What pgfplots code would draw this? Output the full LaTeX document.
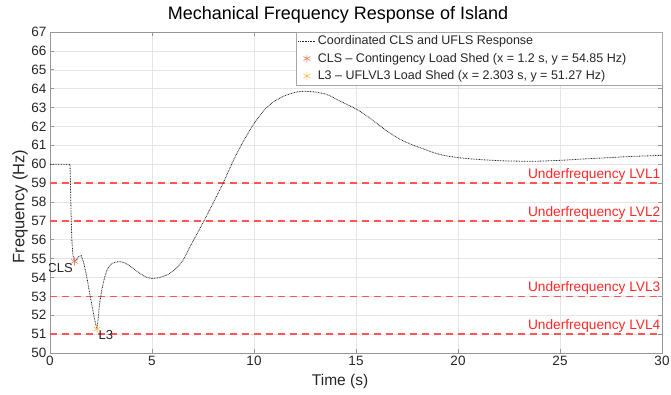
\documentclass[border=0pt]{standalone}
\usepackage{fontspec}
\setmainfont{Liberation Sans}
\usepackage{pgfplots}
\pgfplotsset{compat=1.18}
\definecolor{tickgray}{RGB}{38,38,38}
\definecolor{spine}{RGB}{150,150,150}
\definecolor{ufred}{RGB}{255,85,85}
\definecolor{uftext}{RGB}{255,40,40}
\definecolor{clsc}{RGB}{235,125,95}
\definecolor{l3c}{RGB}{245,190,80}
\pgfplotsset{
  lineleg/.style={legend image code/.code={\draw[##1] (0pt,0pt) -- (17pt,0pt);}},
  markleg/.style={legend image code/.code={\draw[##1] plot coordinates {(8.5pt,0pt)};}},
}
\begin{document}
\begin{tikzpicture}
\begin{axis}[
  name=ax,
  width=612pt, height=321pt, scale only axis,
  xmin=0, xmax=30, ymin=50, ymax=67,
  xtick={0,5,...,30}, ytick={50,51,...,67},
  grid=major, major grid style={draw=black!10, line width=0.5pt},
  axis line style={draw=spine, line width=0.6pt},
  tick style={draw=spine, line width=0.6pt},
  tick align=inside, major tick length=4pt,
  tick label style={font=\fontsize{13.5}{15}\selectfont, text=tickgray},
  /pgf/number format/assume math mode=true,
  title={Mechanical Frequency Response of Island},
  title style={font=\fontsize{18}{20}\selectfont, text=black, at={(axis description cs:0.4706,1)}, anchor=base, inner sep=0pt, yshift=7pt},
  xlabel={Time (s)}, ylabel={Frequency (Hz)},
  xlabel style={font=\fontsize{15.5}{17}\selectfont, text=tickgray, at={(axis description cs:0.474,-0.09)}, anchor=center},
  ylabel style={font=\fontsize{16.5}{18}\selectfont, text=tickgray, at={(axis description cs:-0.049,0.4565)}, anchor=center},
  legend style={at={(axis description cs:1,1)}, anchor=north east,
    font=\fontsize{12.5}{14}\selectfont, draw=black!35, fill=white,
    inner sep=1.5pt, row sep=3pt, text=tickgray},
  legend cell align=left,
]
\addplot[ufred, line width=1.4pt, dash pattern=on 7pt off 5pt, forget plot] coordinates {(0,59) (30,59)};
\addplot[ufred, line width=1.4pt, dash pattern=on 7pt off 5pt, forget plot] coordinates {(0,57) (30,57)};
\addplot[ufred, line width=1.4pt, dash pattern=on 7pt off 5pt, forget plot] coordinates {(0,53) (30,53)};
\addplot[ufred, line width=1.4pt, dash pattern=on 7pt off 5pt, forget plot] coordinates {(0,51) (30,51)};

\addplot[black!85, line width=0.8pt, dash pattern=on 0.8pt off 0.8pt, lineleg] coordinates {
(0,60) (0.5,60) (0.98,60) (1.0,59.2) (1.03,57.5) (1.07,56) (1.12,55.2) (1.2,54.85)
(1.3,54.98) (1.4,55.1) (1.53,55.16) (1.65,54.8) (1.75,54.3) (1.86,53.69) (1.98,52.95)
(2.1,52.27) (2.2,51.7) (2.303,51.27)
};
\addlegendentry{Coordinated CLS and UFLS Response}
\addplot[black!85, line width=0.8pt, dash pattern=on 0.8pt off 0.8pt, smooth, tension=0.4, forget plot] coordinates {
(2.303,51.27) (2.37,51.9) (2.43,52.6) (2.55,53.4) (2.68,54.0)
(2.8,54.4) (2.92,54.62) (3.1,54.77) (3.38,54.84) (3.65,54.78) (3.91,54.62) (4.15,54.42)
(4.4,54.22) (4.7,54.03) (4.97,53.95) (5.3,53.98) (5.71,54.12) (6.1,54.4) (6.5,54.88)
(6.85,55.6) (7.15,56.2) (7.5,56.9) (8.0,57.95) (8.49,59.0) (8.8,59.75) (9.15,60.55)
(9.5,61.25) (9.97,62.1) (10.45,62.8) (10.95,63.3) (11.5,63.62) (12.0,63.8)
(12.43,63.86) (13.0,63.82) (13.58,63.69) (14.24,63.33) (15.06,62.89) (15.6,62.5)
(16.21,62.0) (16.7,61.62) (17.19,61.30) (17.7,61.05) (18.18,60.86) (18.67,60.66)
(19.16,60.50) (19.65,60.40) (20.15,60.33) (20.65,60.28) (21.13,60.24) (22.12,60.18)
(23.0,60.16) (23.6,60.15) (24.5,60.18) (25.3,60.22) (26.06,60.27) (27.3,60.34)
(28.5,60.41) (29.3,60.44) (30,60.47)
};

\addplot[only marks, mark=asterisk, mark size=4pt, clsc, line width=0.6pt, markleg] coordinates {(1.2,54.85)};
\addlegendentry{CLS -- Contingency Load Shed (x = 1.2 s, y = 54.85 Hz)\hspace*{32pt}}

\addplot[only marks, mark=asterisk, mark size=4pt, l3c, line width=0.6pt, markleg] coordinates {(2.303,51.27)};
\addlegendentry{L3 -- UFLVL3 Load Shed (x = 2.303 s, y = 51.27 Hz)}

\node[anchor=north east, inner sep=1.5pt, font=\fontsize{13}{15}\selectfont, text=tickgray] at (axis cs:1.2,54.85) {CLS};
\node[anchor=north west, inner sep=1.5pt, font=\fontsize{13}{15}\selectfont, text=tickgray] at (axis cs:2.303,51.27) {L3};

\node[anchor=south east, inner sep=1.5pt, text=uftext, font=\fontsize{13.7}{15}\selectfont] at (axis cs:30,59) {Underfrequency LVL1};
\node[anchor=south east, inner sep=1.5pt, text=uftext, font=\fontsize{13.7}{15}\selectfont] at (axis cs:30,57) {Underfrequency LVL2};
\node[anchor=south east, inner sep=1.5pt, text=uftext, font=\fontsize{13.7}{15}\selectfont] at (axis cs:30,53) {Underfrequency LVL3};
\node[anchor=south east, inner sep=1.5pt, text=uftext, font=\fontsize{13.7}{15}\selectfont] at (axis cs:30,51) {Underfrequency LVL4};
\end{axis}
\pgfresetboundingbox
\useasboundingbox ([xshift=-50pt,yshift=-41pt]ax.south west) rectangle ([xshift=9pt,yshift=32pt]ax.north east);
\end{tikzpicture}
\end{document}
